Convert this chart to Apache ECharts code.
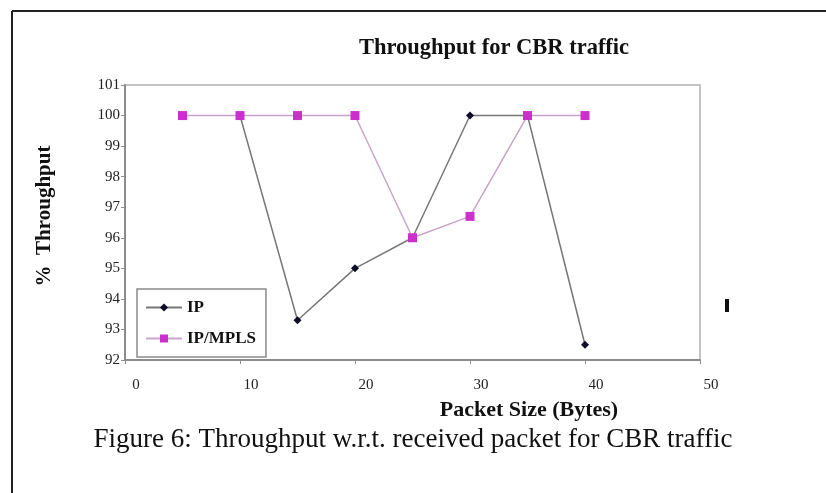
<!DOCTYPE html>
<html>
<head>
<meta charset="utf-8">
<script src="https://cdn.jsdelivr.net/npm/echarts@6/dist/echarts.min.js"></script>
<style>html,body{margin:0;padding:0;background:#fff;}#c{width:826px;height:493px;}</style>
</head>
<body>
<div id="c"></div>
<script>
var titleText = 'Throughput for CBR traffic';
var xTitle = 'Packet Size (Bytes)';
var yTitle = '%  Throughput';
var caption = 'Figure 6: Throughput w.r.t. received packet for CBR traffic';
var seriesNames = ['IP', 'IP/MPLS'];
var ipX = [10, 15, 20, 25, 30, 35, 40];
var ipY = [100, 93.3, 95, 96, 100, 100, 92.5];
var mplsX = [5, 10, 15, 20, 25, 30, 35, 40];
var mplsY = [100, 100, 100, 100, 96, 96.7, 100, 100];

function pairs(xs, ys) { return xs.map(function (x, i) { return [x, ys[i]]; }); }

var serif = '"Liberation Serif", "DejaVu Serif", serif';
var chart = echarts.init(document.getElementById('c'));
chart.setOption({
  animation: false,
  backgroundColor: '#fff',
  title: {
    text: titleText, left: 489, top: 32, textAlign: 'center',
    textStyle: { fontFamily: serif, fontWeight: 'bold', fontSize: 22.5, color: '#111' }
  },
  grid: { left: 125, right: 126, top: 85, bottom: 133, show: true, borderColor: '#c4c4c4', borderWidth: 2, backgroundColor: '#fff' },
  legend: {
    orient: 'vertical', left: 137, top: 289,
    backgroundColor: '#fff', borderColor: '#8a8a8a', borderWidth: 1.5,
    padding: [10, 10, 10, 8], itemGap: 14, itemWidth: 36, itemHeight: 10,
    textStyle: { fontFamily: serif, fontWeight: 'bold', fontSize: 17, color: '#111' },
    data: seriesNames
  },
  xAxis: {
    type: 'value', min: 0, max: 50, interval: 10,
    axisLine: { show: true, lineStyle: { color: '#8c8c8c', width: 2 } },
    axisTick: { show: true, length: 4, lineStyle: { color: '#8c8c8c' } },
    splitLine: { show: false },
    axisLabel: { margin: 18, padding: [0, 0, 0, 22], fontFamily: serif, fontSize: 15, color: '#222' }
  },
  yAxis: {
    type: 'value', min: 92, max: 101, interval: 1,
    axisLine: { show: true, lineStyle: { color: '#8c8c8c', width: 2 } },
    axisTick: { show: true, length: 4, lineStyle: { color: '#8c8c8c' } },
    splitLine: { show: false },
    axisLabel: { margin: 5, fontFamily: serif, fontSize: 15, color: '#222' }
  },
  series: [
    {
      name: seriesNames[0], type: 'line', data: pairs(ipX, ipY),
      symbol: 'diamond', symbolSize: 8,
      lineStyle: { color: '#777777', width: 1.5 },
      itemStyle: { color: '#0c0c28' }
    },
    {
      name: seriesNames[1], type: 'line', data: pairs(mplsX, mplsY),
      symbol: 'rect', symbolSize: 9,
      lineStyle: { color: '#c8a4c8', width: 1.5 },
      itemStyle: { color: '#cc30cc' }
    }
  ],
  graphic: [
    { type: 'line', shape: { x1: 12, y1: 11, x2: 826, y2: 11 }, style: { stroke: '#222', lineWidth: 2 } },
    { type: 'line', shape: { x1: 12, y1: 11, x2: 12, y2: 493 }, style: { stroke: '#222', lineWidth: 2 } },
    { type: 'rect', shape: { x: 725, y: 299, width: 4, height: 13 }, style: { fill: '#111' } },
    { type: 'text', x: 529, y: 410, style: { text: xTitle, fontFamily: serif, fontWeight: 'bold', fontSize: 22, fill: '#111', align: 'center', verticalAlign: 'middle' } },
    { type: 'text', x: 45, y: 216, rotation: Math.PI / 2, style: { text: yTitle, fontFamily: serif, fontWeight: 'bold', fontSize: 21, fill: '#111', align: 'center', verticalAlign: 'middle' } },
    { type: 'text', x: 413, y: 440, style: { text: caption, fontFamily: serif, fontSize: 27, fill: '#111', align: 'center', verticalAlign: 'middle' } }
  ]
});
</script>
</body>
</html>
